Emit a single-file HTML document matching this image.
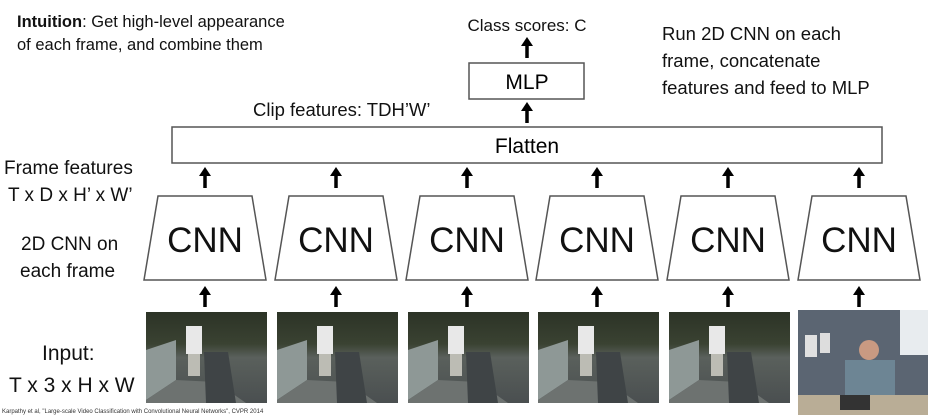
<!DOCTYPE html>
<html><head><meta charset="utf-8"><style>
html,body{margin:0;padding:0;background:#fff;}
svg{display:block;font-family:"Liberation Sans",sans-serif;}
</style></head><body>
<svg width="932" height="415" viewBox="0 0 932 415" xmlns="http://www.w3.org/2000/svg">
<defs>
<linearGradient id="sky" x1="0" y1="0" x2="0" y2="1">
<stop offset="0" stop-color="#2c3326"/><stop offset="0.35" stop-color="#3a4232"/><stop offset="0.5" stop-color="#5a605c"/><stop offset="1" stop-color="#4a4f50"/>
</linearGradient>
<g id="arr"><line x1="0" y1="5" x2="0" y2="20" stroke="#000" stroke-width="3.5"/><polygon points="-6,8 6,8 0,-1" fill="#000"/></g>
<g id="frame">
<rect x="0" y="0" width="121" height="91" fill="url(#sky)"/>
<polygon points="0,38 30,28 30,68 0,88" fill="#8e9896"/>
<polygon points="0,88 30,68 70,70 100,91 0,91" fill="#6d7270"/>
<polygon points="58,40 82,40 90,91 60,91" fill="#3f4446"/>
<rect x="40" y="14" width="16" height="28" fill="#e8e8e8"/>
<rect x="42" y="42" width="12" height="22" fill="#bcbcb4"/>
</g>
</defs>
<g fill="#111">
<text x="17" y="27" font-size="16.5"><tspan font-weight="bold">Intuition</tspan>: Get high-level appearance</text>
<text x="17" y="50" font-size="16.5">of each frame, and combine them</text>
<text x="527" y="31" font-size="17" text-anchor="middle">Class scores: C</text>
<text x="662" y="40" font-size="18.5">Run 2D CNN on each</text>
<text x="662" y="67" font-size="18.5">frame, concatenate</text>
<text x="662" y="94" font-size="18.5">features and feed to MLP</text>
<text x="253" y="116" font-size="18.5">Clip features: TDH’W’</text>
<text x="4" y="174" font-size="19">Frame features</text>
<text x="8" y="201" font-size="19">T x D x H’ x W’</text>
<text x="21" y="250" font-size="19">2D CNN on</text>
<text x="20" y="277" font-size="19">each frame</text>
<text x="42" y="360" font-size="21">Input:</text>
<text x="9" y="392" font-size="21">T x 3 x H x W</text>
<text x="2" y="413" font-size="6" fill="#333">Karpathy et al, "Large-scale Video Classification with Convolutional Neural Networks", CVPR 2014</text>
</g>
<rect x="469" y="63" width="115" height="36" fill="#fff" stroke="#555" stroke-width="1.5"/>
<text x="527" y="89" font-size="21" text-anchor="middle">MLP</text>
<rect x="172" y="127" width="710" height="36" fill="#fff" stroke="#555" stroke-width="1.5"/>
<text x="527" y="153" font-size="21" text-anchor="middle">Flatten</text>
<use href="#arr" x="527" y="38"/>
<use href="#arr" x="527" y="103"/>
<g>
<use href="#arr" x="205" y="168"/><use href="#arr" x="336" y="168"/><use href="#arr" x="467" y="168"/><use href="#arr" x="597" y="168"/><use href="#arr" x="728" y="168"/><use href="#arr" x="859" y="168"/>
<use href="#arr" x="205" y="287"/><use href="#arr" x="336" y="287"/><use href="#arr" x="467" y="287"/><use href="#arr" x="597" y="287"/><use href="#arr" x="728" y="287"/><use href="#arr" x="859" y="287"/>
</g>
<g fill="#fff" stroke="#555" stroke-width="1.5">
<polygon points="158,196 252,196 266,280 144,280"/>
<polygon points="289,196 383,196 397,280 275,280"/>
<polygon points="420,196 514,196 528,280 406,280"/>
<polygon points="550,196 644,196 658,280 536,280"/>
<polygon points="681,196 775,196 789,280 667,280"/>
<polygon points="812,196 906,196 920,280 798,280"/>
</g>
<g font-size="35" text-anchor="middle" fill="#111">
<text x="205" y="252">CNN</text><text x="336" y="252">CNN</text><text x="467" y="252">CNN</text><text x="597" y="252">CNN</text><text x="728" y="252">CNN</text><text x="859" y="252">CNN</text>
</g>
<use href="#frame" x="146" y="312"/>
<use href="#frame" x="277" y="312"/>
<use href="#frame" x="408" y="312"/>
<use href="#frame" x="538" y="312"/>
<use href="#frame" x="669" y="312"/>
<g>
<rect x="798" y="310" width="130" height="105" fill="#5b6572"/>
<rect x="900" y="310" width="28" height="45" fill="#e8ecef"/>
<rect x="805" y="335" width="12" height="22" fill="#e0e0e0"/>
<rect x="820" y="333" width="10" height="20" fill="#ddd"/>
<rect x="845" y="360" width="50" height="40" fill="#6d8594"/>
<circle cx="869" cy="350" r="10" fill="#c99a82"/>
<rect x="798" y="395" width="130" height="20" fill="#b9ad96"/>
<rect x="840" y="395" width="30" height="15" fill="#333"/>
</g>
</svg>
</body></html>
